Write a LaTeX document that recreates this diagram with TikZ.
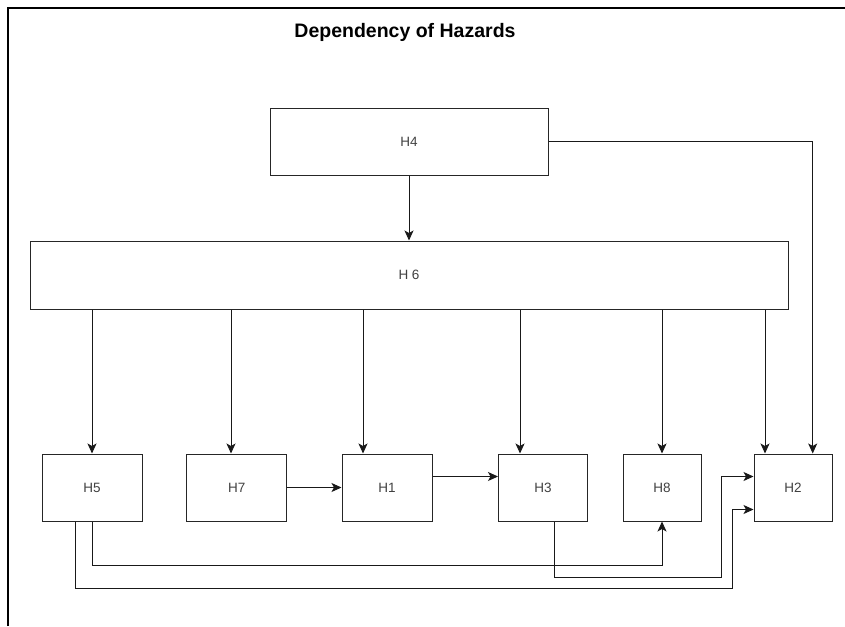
\documentclass[tikz,border=0pt]{standalone}
\usepackage{fontspec}
\setmainfont{Liberation Sans}
\usetikzlibrary{arrows.meta}

\tikzset{
  hbox/.style={draw=black!85, line width=1pt, inner sep=0pt, minimum height=67pt,
    text=black!75, font=\fontsize{13.5}{15}\selectfont},
  arr/.style={draw=black!90, line width=1pt, -{Stealth[length=10pt,width=9pt,inset=2.5pt]}}
}

\begin{document}
\begin{tikzpicture}[x=1pt,y=-1pt]
\useasboundingbox (0,0) rectangle (845,626);
\draw[line width=1.6pt] (8,626) -- (8,8) -- (845,8);
\node[font=\bfseries\fontsize{19.5}{23}\selectfont] (title) at (405,32) {Dependency of Hazards};
\node[hbox, minimum width=278pt] (h4) at (409,141.5) {H4};
\node[hbox, minimum width=758pt, minimum height=68pt] (h6) at (409,275) {H 6};
\node[hbox, minimum width=100pt] (h5) at (92,487.5) {H5};
\node[hbox, minimum width=100pt] (h7) at (236.7,487.5) {H7};
\node[hbox, minimum width=90pt] (h1) at (387,487.5) {H1};
\node[hbox, minimum width=89pt] (h3) at (543,487.5) {H3};
\node[hbox, minimum width=78pt] (h8) at (662,487.5) {H8};
\node[hbox, minimum width=78pt] (h2) at (793,487.5) {H2};
\draw[arr] (h4.south) -- (h6.north);
% drops from H 6
\foreach \x/\n in {92/h5,231/h7,363/h1,520/h3,662/h8,765/h2}{
  \coordinate (d) at (\x,0);
  \draw[arr] (h6.south -| d) -- (\n.north -| d);
}
\coordinate (k) at (812.7,0);
\draw[arr] (h4.east) -| (h2.north -| k);
\draw[arr] (h7) -- (h1);
\draw[arr] ([yshift=11pt]h1.east) -- ([yshift=11pt]h3.west);
% lanes under the row
\draw[arr] (h5.south) -- ++(0,44) -| (h8.south);
\draw[arr] ([xshift=11pt]h3.south) |- (721,577) |- ([yshift=11pt]h2.west);
\draw[arr] ([xshift=-17pt]h5.south) |- (732,588) |- ([yshift=-22pt]h2.west);
\end{tikzpicture}
\end{document}
